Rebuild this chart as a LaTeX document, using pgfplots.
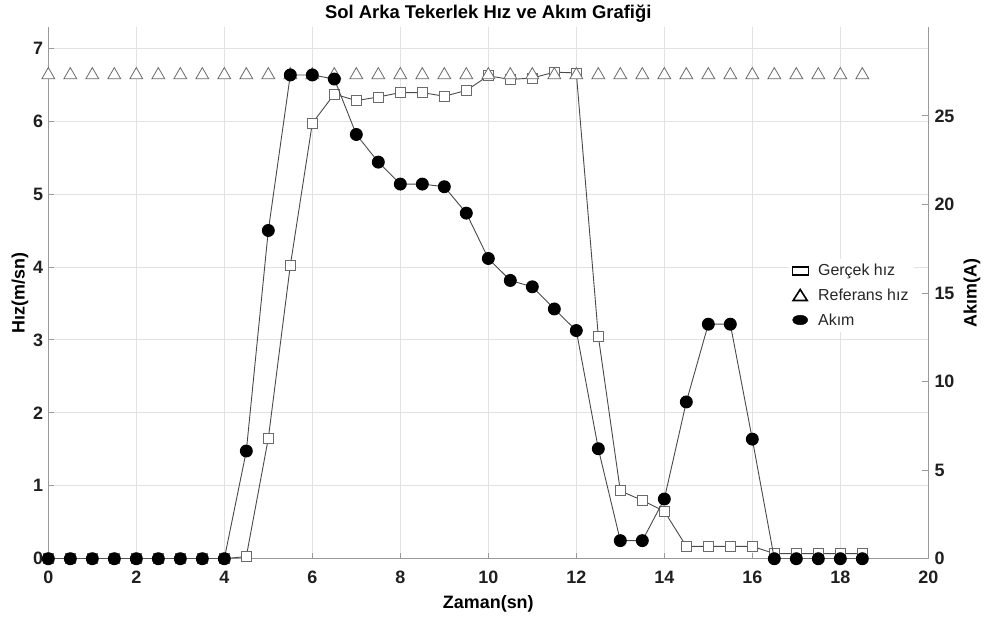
\documentclass[border=0pt]{standalone}
\usepackage{pgfplots}
\pgfplotsset{compat=1.18}
\usepackage{fontspec}
\setmainfont{Liberation Sans}
\definecolor{lineg}{HTML}{4A4A4A}
\definecolor{markg}{HTML}{6A6A6A}
\definecolor{gridg}{HTML}{E2E2E2}
\definecolor{axg}{HTML}{9A9A9A}
\begin{document}
\begin{tikzpicture}
\pgfplotsset{
  base/.style={
    width=880bp, height=531.4bp, scale only axis,
    xmin=0, xmax=20,
    /pgf/number format/assume math mode=true,
    tick label style={font=\fontsize{18}{20}\selectfont\bfseries, text=black!88},
    tick align=inside, major tick length=6bp,
    every tick/.style={axg, line width=0.8bp},
    axis line style={-, axg, line width=1.2bp},
    every non boxed x axis/.append style={x axis line style={-}, xtick align=inside},
    every non boxed y axis/.append style={y axis line style={-}, ytick align=inside},
  }
}
\begin{axis}[base,
  axis x line=bottom, axis y line=left,
  ymin=0, ymax=7.285,
  xtick={0,2,...,20}, ytick={0,1,...,7},
  grid=major, major grid style={gridg, line width=0.8bp},
  xticklabel style={inner sep=0pt, anchor=north, yshift=-12bp},
  yticklabel style={inner sep=0pt, anchor=east, xshift=-5bp},
  xlabel={Zaman(sn)},
  xlabel style={font=\fontsize{18}{20}\selectfont\bfseries, at={(rel axis cs:0.5,-0.0931)}, anchor=base},
  ylabel={H\i z(m/sn)},
  ylabel style={font=\fontsize{18}{20}\selectfont\bfseries, at={(rel axis cs:-0.0322,0.5)}, anchor=center},
  legend style={draw=none, fill=white, at={(rel axis cs:0.841,0.5646)}, anchor=north west,
    font=\fontsize{16}{18}\selectfont, text=black!85, inner sep=3bp, row sep=6.5bp,
    nodes={inner sep=2.5bp}},
  legend cell align=left,
]
\coordinate (bbl) at (rel axis cs:-0.0549,-0.121);
\coordinate (btr) at (rel axis cs:1.0667,1.0514);
\coordinate (ttl) at (rel axis cs:0.5,1.0169);
\addplot[lineg, line width=0.9bp, mark=square*, mark size=5bp,
  mark options={fill=white, draw=markg, line width=0.8bp},
  legend image code/.code={\draw[black, line width=1.2bp, fill=white] (1bp,-4bp) rectangle (17bp,4bp); \path (24bp,0bp);}]
coordinates {
(0,0) (0.5,0) (1,0) (1.5,0) (2,0) (2.5,0) (3,0) (3.5,0) (4,0)
(4.5,0.03) (5,1.65) (5.5,4.02) (6,5.97) (6.5,6.37) (7,6.28) (7.5,6.33)
(8,6.39) (8.5,6.39) (9,6.34) (9.5,6.42) (10,6.62) (10.5,6.57) (11,6.59)
(11.5,6.67) (12,6.66) (12.5,3.05) (13,0.93) (13.5,0.80) (14,0.65)
(14.5,0.17) (15,0.17) (15.5,0.17) (16,0.17) (16.5,0.07) (17,0.07)
(17.5,0.07) (18,0.07) (18.5,0.07)
};
\addlegendentry{Gerçek h\i z}
\addplot[only marks, mark=triangle*, mark size=7.5bp,
  mark options={fill=white, draw=markg, line width=0.8bp},
  legend image code/.code={\draw[black, line width=1.6bp, fill=white] (2bp,-5bp) -- (16bp,-5bp) -- (9bp,6bp) -- cycle; \path (24bp,0bp);}]
coordinates {
(0,6.63) (0.5,6.63) (1,6.63) (1.5,6.63) (2,6.63) (2.5,6.63) (3,6.63) (3.5,6.63)
(4,6.63) (4.5,6.63) (5,6.63) (5.5,6.63) (6,6.63) (6.5,6.63) (7,6.63) (7.5,6.63)
(8,6.63) (8.5,6.63) (9,6.63) (9.5,6.63) (10,6.63) (10.5,6.63) (11,6.63) (11.5,6.63)
(12,6.63) (12.5,6.63) (13,6.63) (13.5,6.63) (14,6.63) (14.5,6.63) (15,6.63) (15.5,6.63)
(16,6.63) (16.5,6.63) (17,6.63) (17.5,6.63) (18,6.63) (18.5,6.63)
};
\addlegendentry{Referans h\i z}
\addlegendimage{legend image code/.code={\fill[black] (9bp,0bp) ellipse [x radius=7.5bp, y radius=4.8bp]; \path (24bp,0bp);}}
\addlegendentry{Ak\i m}
\end{axis}
\begin{axis}[base,
  axis x line=none, axis y line=right,
  ymin=0, ymax=30,
  ytick={0,5,...,25},
  yticklabel style={inner sep=0pt, anchor=west, xshift=6bp},
  ylabel={Ak\i m(A)},
  ylabel style={font=\fontsize{18}{20}\selectfont\bfseries, at={(rel axis cs:1.0497,0.5)}, anchor=center, rotate=0},
]
\addplot[lineg, line width=0.9bp, mark=*, mark size=6bp,
  mark options={fill=black, draw=black}]
coordinates {
(0,0) (0.5,0) (1,0) (1.5,0) (2,0) (2.5,0) (3,0) (3.5,0) (4,0)
(4.5,6.08) (5,18.53) (5.5,27.31) (6,27.31) (6.5,27.08) (7,23.95) (7.5,22.39)
(8,21.15) (8.5,21.15) (9,21.0) (9.5,19.51) (10,16.95) (10.5,15.71) (11,15.35)
(11.5,14.1) (12,12.88) (12.5,6.21) (13,1.02) (13.5,1.02) (14,3.37)
(14.5,8.85) (15,13.24) (15.5,13.24) (16,6.75) (16.5,0) (17,0)
(17.5,0) (18,0) (18.5,0)
};
\end{axis}
\node[font=\fontsize{18.5}{20}\selectfont\bfseries, anchor=base, inner sep=0pt] at (ttl) {Sol Arka Tekerlek H\i z ve Ak\i m Grafi\u{g}i};
\pgfresetboundingbox
\path[use as bounding box] (bbl) rectangle (btr);
\end{tikzpicture}
\end{document}
